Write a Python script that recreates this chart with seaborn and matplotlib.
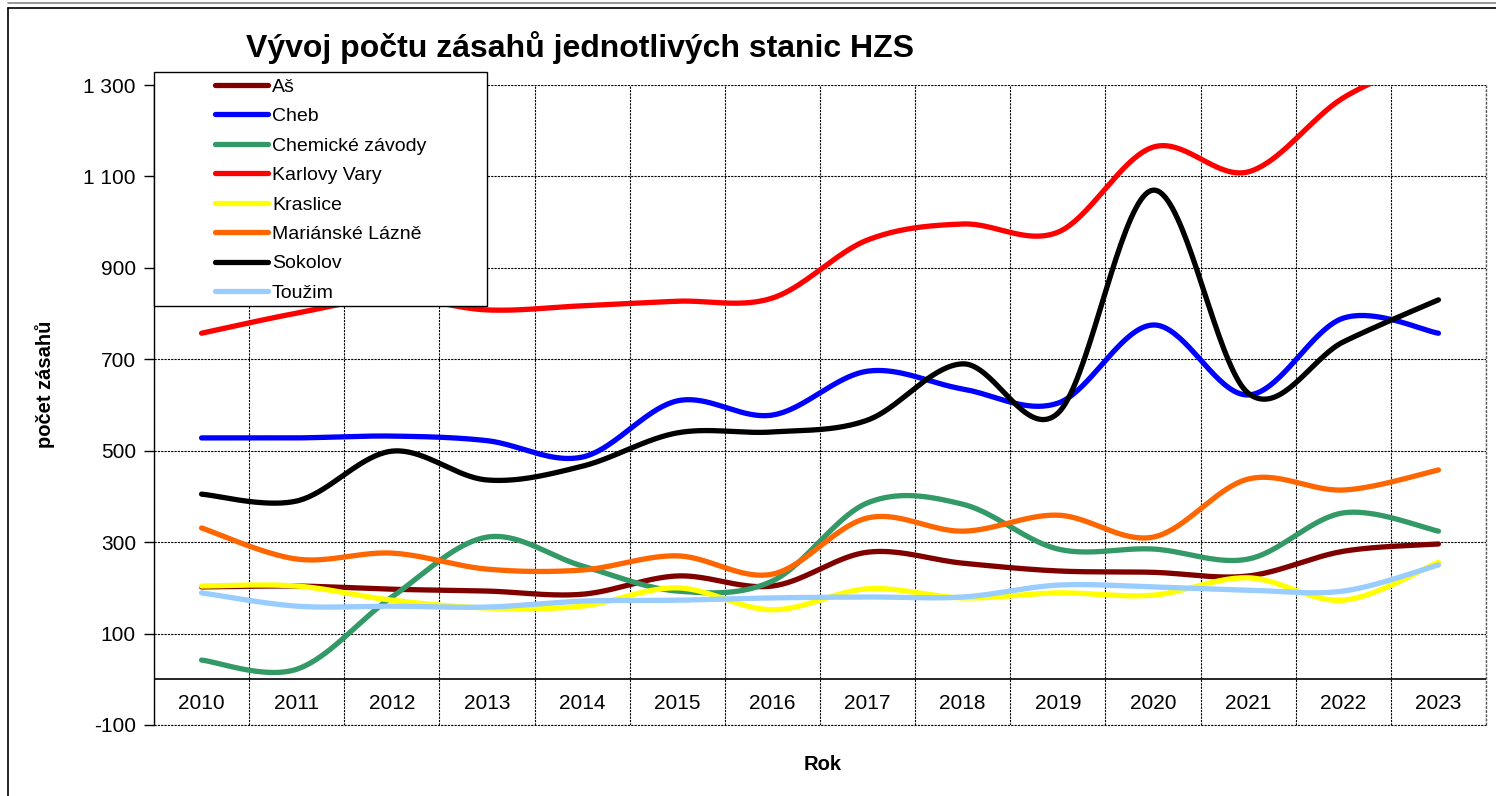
import numpy as np
import pandas as pd
import matplotlib
matplotlib.use('Agg')
import matplotlib.pyplot as plt
from matplotlib.patches import Rectangle
from matplotlib.lines import Line2D
from matplotlib.ticker import FuncFormatter
import seaborn as sns

roky = [2010, 2011, 2012, 2013, 2014, 2015, 2016, 2017, 2018, 2019, 2020, 2021, 2022, 2023]

stanice = ['Aš', 'Cheb', 'Chemické závody', 'Karlovy Vary', 'Kraslice',
           'Mariánské Lázně', 'Sokolov', 'Toužim']

as_vals = [202, 204, 197, 193, 186, 226, 204, 278, 254, 237, 234, 226, 280, 296]
cheb = [528, 528, 532, 522, 486, 609, 578, 674, 635, 604, 775, 622, 790, 757]
chem = [42, 22, 180, 311, 248, 193, 215, 386, 383, 285, 285, 263, 364, 324]
kv = [757, 801, 835, 808, 817, 827, 834, 961, 996, 978, 1164, 1110, 1272, 1365]
kraslice = [204, 204, 173, 156, 160, 200, 152, 198, 178, 189, 184, 222, 173, 256]
ml = [331, 263, 276, 241, 239, 270, 230, 353, 324, 359, 311, 438, 414, 458]
sokolov = [405, 390, 499, 436, 466, 539, 541, 567, 690, 582, 1070, 626, 738, 830]
touzim = [189, 160, 160, 158, 171, 173, 178, 180, 180, 206, 202, 195, 193, 250]

barvy = ['#800000', '#0000FF', '#339966', '#FF0000', '#FFFF00', '#FF6600', '#000000', '#99CCFF']


def smooth(vals, n=40):
    # Excel-like smoothed line (Bezier through the points)
    p = np.column_stack([np.arange(len(vals)), vals]).astype(float)
    ext = np.vstack([p[0], p, p[-1]])
    t = np.linspace(0, 1, n)[:, None]
    out = []
    for i in range(len(p) - 1):
        p0, p3 = p[i], p[i + 1]
        c1 = p0 + (ext[i + 2] - ext[i]) / 6
        c2 = p3 - (ext[i + 3] - ext[i + 1]) / 6
        seg = (1 - t)**3 * p0 + 3 * (1 - t)**2 * t * c1 + 3 * (1 - t) * t**2 * c2 + t**3 * p3
        out.append(seg if i == 0 else seg[1:])
    return np.vstack(out)


serie = [as_vals, cheb, chem, kv, kraslice, ml, sokolov, touzim]
frames = []
for name, vals in zip(stanice, serie):
    s = smooth(vals)
    frames.append(pd.DataFrame({'x': s[:, 0], 'y': s[:, 1], 'stanice': name}))
df = pd.concat(frames, ignore_index=True)

sns.set_style('white')
plt.rcParams['font.family'] = ['Liberation Sans', 'DejaVu Sans']
plt.rcParams['text.color'] = 'black'
plt.rcParams['ytick.color'] = 'black'
plt.rcParams['xtick.color'] = 'black'

fig = plt.figure(figsize=(14.96, 7.96), dpi=100)
ax = fig.add_axes([154 / 1496, 1 - 725 / 796, (1486 - 154) / 1496, 640 / 796])

sns.lineplot(data=df, x='x', y='y', hue='stanice', hue_order=stanice, palette=barvy,
             sort=False, estimator=None, lw=3.8, ax=ax, legend=True)

ax.set_xlim(-0.5, len(roky) - 0.5)
ax.set_ylim(-100, 1300)

# grid
ax.set_yticks(np.arange(-100, 1301, 200))
ax.yaxis.set_major_formatter(FuncFormatter(lambda v, p: f'{int(v):,}'.replace(',', ' ')))
ax.set_xticks(np.arange(len(roky)))
ax.set_xticks(np.arange(-0.5, len(roky), 1), minor=True)
ax.set_xticklabels([])
ax.grid(axis='y', which='major', color='black', ls=(0, (2, 1)), lw=0.8)
ax.grid(axis='x', which='minor', color='black', ls=(0, (2, 1)), lw=0.8)
ax.grid(axis='x', which='major', visible=False)
ax.axhline(-100, color='black', ls=(0, (2, 1)), lw=0.8, clip_on=False)
ax.axvline(len(roky) - 0.5, color='#555555', ls=(0, (2, 1)), lw=1, clip_on=False)
ax.tick_params(axis='x', which='both', length=0)
ax.tick_params(axis='y', which='major', length=7, width=1, color='black', direction='out',
               labelsize=15, pad=6, left=True, labelcolor='black')
for sp in ['top', 'right', 'bottom']:
    ax.spines[sp].set_visible(False)
ax.spines['left'].set_color('black')
ax.spines['left'].set_linewidth(1)
ax.axhline(0, color='black', lw=1.2, zorder=3)

for i, r in enumerate(roky):
    ax.text(i, -54, str(r), ha='center', va='center', fontsize=15, color='black')

ax.set_xlabel('')
ax.set_ylabel('')
fig.text(45 / 1496, 1 - 384 / 796, 'počet zásahů', rotation=90, ha='center', va='center',
         fontsize=14.5, fontweight='bold')
fig.text(823 / 1496, 1 - 765 / 796, 'Rok', ha='center', va='center', fontsize=14.5, fontweight='bold')
fig.text(580 / 1496, 1 - 48 / 796, 'Vývoj počtu zásahů jednotlivých stanic HZS', ha='center',
         va='center', fontsize=23, fontweight='bold')

# legend
ax.add_patch(Rectangle((0, (725 - 306) / 640), 333 / 1332, 234 / 640, transform=ax.transAxes,
                       facecolor='white', edgecolor='black', lw=1, zorder=4, clip_on=False))
leg = ax.legend(loc='upper left', bbox_to_anchor=(61 / 1332, (725 - 78) / 640), frameon=False,
                fontsize=14, handlelength=2.73, handletextpad=0.2, labelspacing=0.61,
                borderpad=0, borderaxespad=0)
leg.set_zorder(5)
for h in leg.get_lines():
    h.set_linewidth(3.8)
for txt in leg.get_texts():
    txt.set_color('black')

# outer frame
fig.add_artist(Line2D([8 / 1496, 1], [1 - 3 / 796, 1 - 3 / 796], color='#888888', lw=1.2))
fig.add_artist(Line2D([8 / 1496, 1], [1 - 8 / 796, 1 - 8 / 796], color='black', lw=1.2))
fig.add_artist(Line2D([8 / 1496, 8 / 1496], [0, 1 - 8 / 796], color='black', lw=1.2))

fig.savefig('out.png', dpi=100)
